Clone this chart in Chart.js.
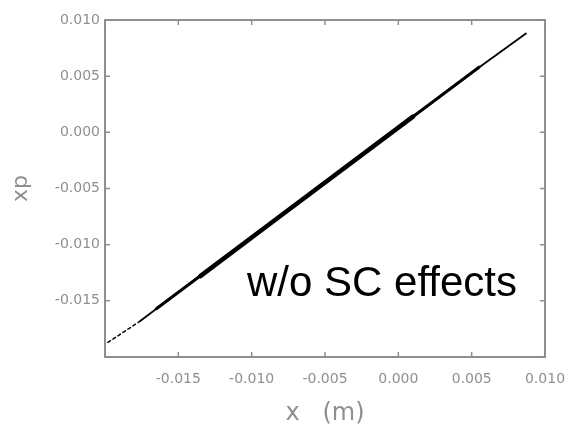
<!DOCTYPE html>
<html>
<head>
<meta charset="utf-8">
<script src="https://cdn.jsdelivr.net/npm/chart.js@4.4.0/dist/chart.umd.min.js"></script>
<style>
  html, body { margin: 0; padding: 0; background: #fff; }
  #wrap { width: 569px; height: 430px; }
</style>
</head>
<body>
<div id="wrap"><canvas id="phase"></canvas></div>
<script>
// data (x in m, xp)
const tailX = [-0.0198, -0.0176];
const tailY = [-0.0187, -0.0168];
const coreX = [-0.0176, -0.0120, -0.0060, 0.0000, 0.0050, 0.0087];
const coreY = [-0.0168, -0.0113, -0.0055, 0.0004, 0.0053, 0.0088];
const midX = [-0.0165, -0.0080, 0.0055];
const midY = [-0.0157, -0.0074, 0.0058];
const bandX = [-0.0135, -0.0080, 0.0010];
const bandY = [-0.0128, -0.0074, 0.0014];

const xTicks = [-0.020, -0.015, -0.010, -0.005, 0.000, 0.005, 0.010];
const yTicks = [-0.020, -0.015, -0.010, -0.005, 0.000, 0.005, 0.010];
const note = 'w/o SC effects';

const gray = '#8f8f8f';

function pts(xs, ys) {
  return xs.map((x, i) => ({ x: x, y: ys[i] }));
}

function fmt(v) {
  if (v < -0.0199) return '';
  if (Math.abs(v) < 1e-9) return '0.000';
  return v.toFixed(3);
}

// frame, inward ticks and the text note
const framePlugin = {
  id: 'frame',
  afterDraw(chart) {
    const ctx = chart.ctx;
    const a = chart.chartArea;
    const sx = chart.scales.x, sy = chart.scales.y;
    ctx.save();
    ctx.strokeStyle = gray;
    ctx.lineWidth = 2;
    ctx.strokeRect(a.left, a.top, a.right - a.left, a.bottom - a.top);
    ctx.lineWidth = 1.5;
    ctx.beginPath();
    xTicks.forEach(v => {
      const px = sx.getPixelForValue(v);
      ctx.moveTo(px, a.bottom); ctx.lineTo(px, a.bottom - 5);
      ctx.moveTo(px, a.top); ctx.lineTo(px, a.top + 5);
    });
    yTicks.forEach(v => {
      const py = sy.getPixelForValue(v);
      ctx.moveTo(a.left, py); ctx.lineTo(a.left + 5, py);
      ctx.moveTo(a.right, py); ctx.lineTo(a.right - 5, py);
    });
    ctx.stroke();

    ctx.fillStyle = '#000';
    ctx.font = '42px "Liberation Sans", Arial, sans-serif';
    ctx.textAlign = 'left';
    ctx.textBaseline = 'alphabetic';
    ctx.fillText(note, 247, 296);
    ctx.restore();
  }
};

const ds = (data, width, dash) => ({
  data: data,
  showLine: true,
  borderColor: '#000',
  backgroundColor: '#000',
  borderWidth: width,
  borderDash: dash || [],
  borderCapStyle: 'round',
  pointRadius: 0,
  tension: 0
});

new Chart(document.getElementById('phase'), {
  type: 'scatter',
  data: {
    datasets: [
      ds(pts(tailX, tailY), 1.5, [3, 3]),
      ds(pts(coreX, coreY), 1.8),
      ds(pts(midX, midY), 3),
      ds(pts(bandX, bandY), 4.5)
    ]
  },
  options: {
    responsive: true,
    maintainAspectRatio: false,
    animation: false,
    layout: { padding: { top: 20, right: 24, left: 0, bottom: 0 } },
    plugins: { legend: { display: false }, tooltip: { enabled: false } },
    scales: {
      x: {
        type: 'linear',
        min: -0.020,
        max: 0.010,
        afterFit: s => { s.height = 73; s.paddingLeft = 0; s.paddingRight = 0; },
        afterBuildTicks: s => { s.ticks = xTicks.map(v => ({ value: v })); },
        grid: { display: false, drawTicks: false },
        border: { display: false },
        ticks: {
          padding: 14,
          color: gray,
          font: { family: '"DejaVu Sans", sans-serif', size: 14 },
          maxRotation: 0,
          autoSkip: false,
          callback: fmt
        },
        title: {
          display: true,
          text: 'x   (m)',
          color: gray,
          font: { family: '"DejaVu Sans", sans-serif', size: 24 },
          padding: { top: 0, bottom: 2 }
        }
      },
      y: {
        type: 'linear',
        min: -0.020,
        max: 0.010,
        afterFit: s => { s.width = 105; s.paddingTop = 0; s.paddingBottom = 0; },
        afterBuildTicks: s => { s.ticks = yTicks.map(v => ({ value: v })); },
        grid: { display: false, drawTicks: false },
        border: { display: false },
        ticks: {
          padding: 5,
          color: gray,
          font: { family: '"DejaVu Sans", sans-serif', size: 14 },
          autoSkip: false,
          callback: fmt
        },
        title: {
          display: true,
          text: 'xp',
          color: gray,
          font: { family: '"DejaVu Sans", sans-serif', size: 22 },
          padding: { top: 8, bottom: 0 }
        }
      }
    }
  },
  plugins: [framePlugin]
});
</script>
</body>
</html>
